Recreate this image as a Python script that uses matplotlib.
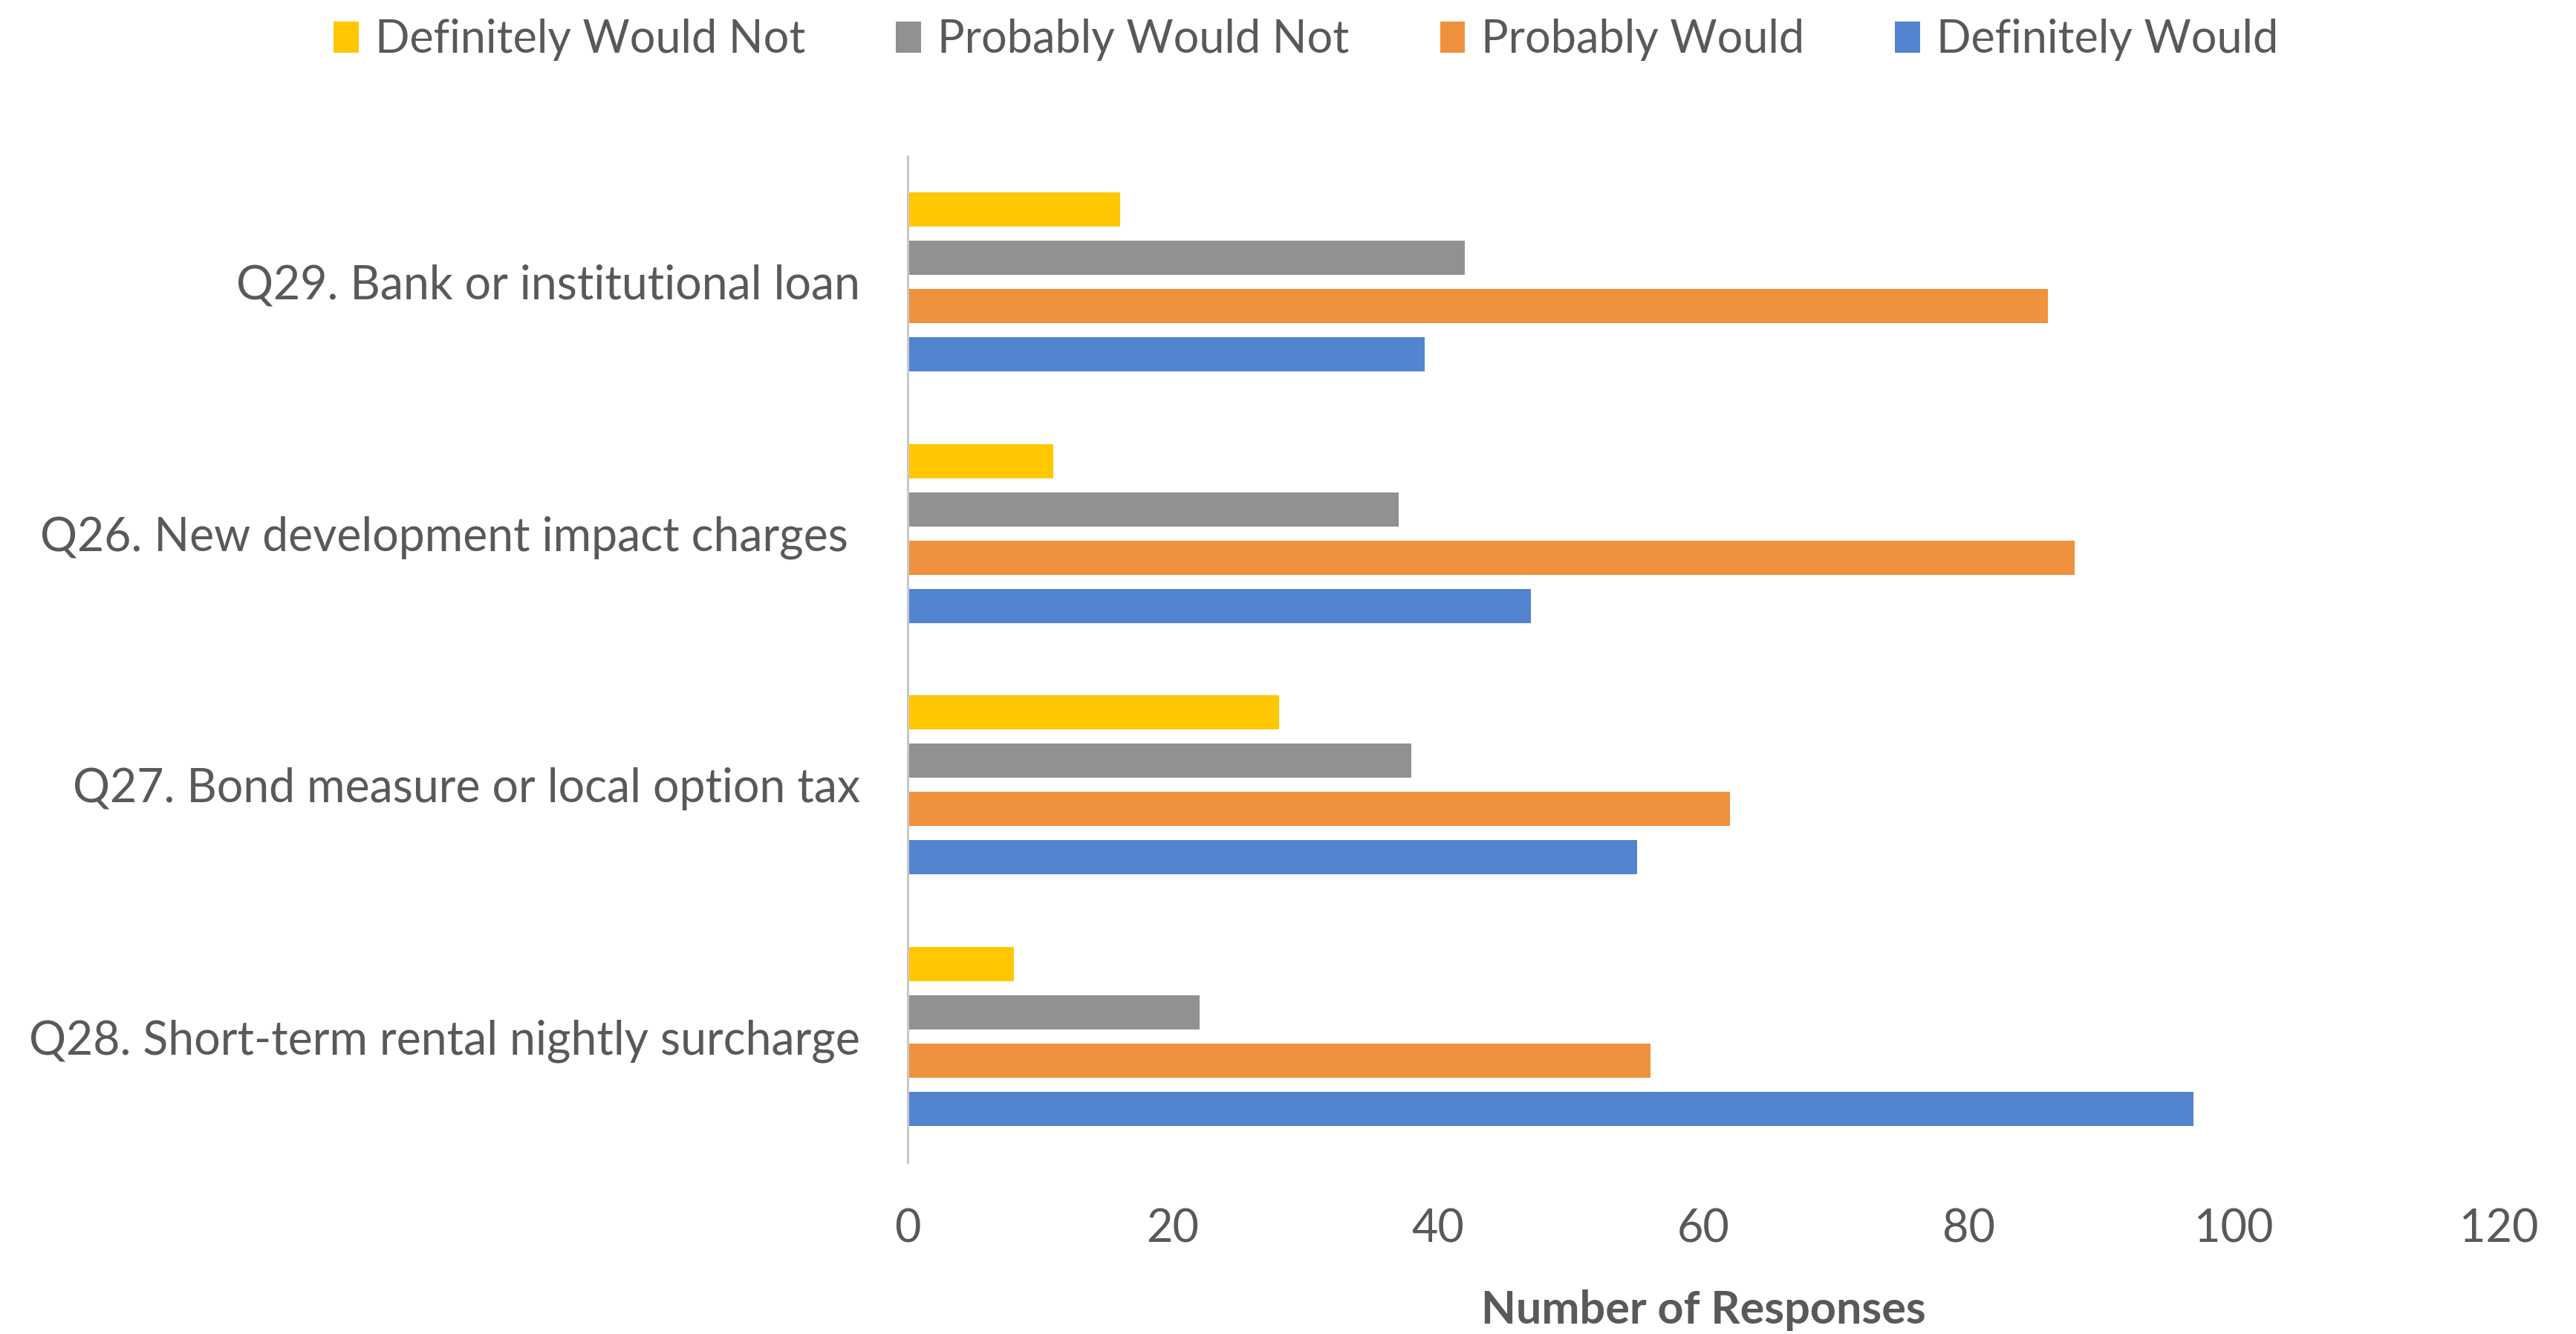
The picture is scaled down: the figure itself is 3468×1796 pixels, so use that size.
import matplotlib
matplotlib.use("Agg")
import numpy as np
import matplotlib.pyplot as plt

# survey categories, bottom to top
categories = ["Q28. Short-term rental nightly surcharge",
              "Q27. Bond measure or local option tax",
              "Q26. New development impact charges ",
              "Q29. Bank or institutional loan"]

definitely_would = [97, 55, 47, 39]
probably_would = [56, 62, 88, 86]
probably_would_not = [22, 38, 37, 42]
definitely_would_not = [8, 28, 11, 16]

series_names = ["Definitely Would", "Probably Would",
                "Probably Would Not", "Definitely Would Not"]
series_vals = [definitely_would, probably_would,
               probably_would_not, definitely_would_not]
colors = ["#5284CF", "#F0913D", "#919191", "#FFC700"]

x_ticks = [0, 20, 40, 60, 80, 100, 120]

plt.rcParams['font.family'] = ['Lato', 'DejaVu Sans']
txt_color = "#595959"

fig = plt.figure(figsize=(34.68, 17.96), dpi=100)
ax = fig.add_axes([0.3524, 0.1286, 0.6176, 0.7545])

y = np.arange(len(categories))
pitch = 0.192
height = 0.136
handles = []
for i, (name, vals, c) in enumerate(zip(series_names, series_vals, colors)):
    off = (i - 1.5) * pitch
    h = ax.barh(y + off, vals, height=height, color=c, label=name)
    handles.append(h)

ax.set_xlim(0, 120)
ax.set_ylim(-0.5, 3.5)
ax.set_xticks(x_ticks)
ax.set_yticks(y)
ax.set_yticklabels(categories)

for s in ["top", "right", "bottom"]:
    ax.spines[s].set_visible(False)
ax.spines["left"].set_color("#C8C8C8")
ax.spines["left"].set_linewidth(2.2)

ax.tick_params(axis="y", length=0, pad=46, labelsize=45, labelcolor=txt_color)
ax.tick_params(axis="x", length=0, pad=44, labelsize=44, labelcolor=txt_color)

ax.set_xlabel("Number of Responses", fontsize=44, fontweight="bold",
              color=txt_color, labelpad=38)

leg = fig.legend(handles[::-1], series_names[::-1], loc="center",
                 bbox_to_anchor=(0.507, 0.970), ncol=4, frameon=False,
                 fontsize=44, handlelength=0.55, handleheight=0.7,
                 handletextpad=0.36, columnspacing=2.0)
for t in leg.get_texts():
    t.set_color(txt_color)

plt.savefig("out.png", dpi=100)
